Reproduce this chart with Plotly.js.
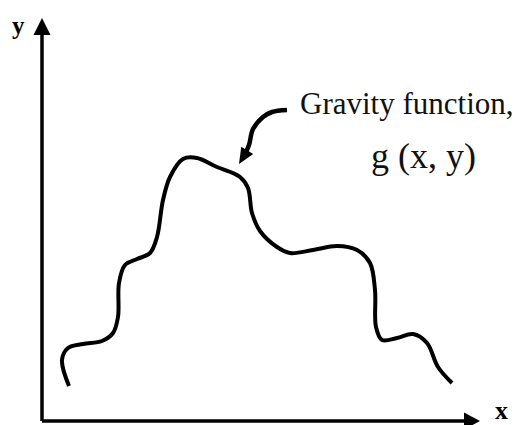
<!DOCTYPE html>
<html>
<head>
<meta charset="utf-8">
<script src="https://cdn.plot.ly/plotly-3.0.1.min.js"></script>
<style>html,body{margin:0;padding:0;background:#fff;}#chart{width:516px;height:425px;}</style>
</head>
<body>
<div id="chart"></div>
<script>
// Gravity function curve g(x, y) (schematic units)
const curveX = [27,20,26,41,60,71,76,77,83,95,108,115,121,128,141,155,175,198,206,210,218,235,248,271,295,315,328,333,334,340,355,371,385,396,410];
const curveY = [35,61,73,77,80,88,104,138,156,162,168,184,221,244,262,263,254,244,233,208,190,174,168,171,175,171,158,131,94,81,83,87,78,54,38];

// Pointer arrow from label to curve
const pointerX = [245,230,221,211,207,203,197];
const pointerY = [311,309,304,292,276,267,257];

// Axes (origin to arrow tip)
const xAxisX = [0,438];
const xAxisY = [0,0];
const yAxisX = [0,0];
const yAxisY = [0,403];

const labels = {title1: "Gravity function,", title2: "g (x, y)", xLabel: "x", yLabel: "y"};

// Build a filled triangular arrowhead (data units are 1:1 with pixels here)
function headPath(xs, ys, len, wid){
  const n = xs.length;
  const tx = xs[n-1], ty = ys[n-1];
  let dx = tx - xs[n-2], dy = ty - ys[n-2];
  const d = Math.hypot(dx, dy); dx /= d; dy /= d;
  const bx = tx - dx*len, by = ty - dy*len;
  const px = -dy, py = dx;
  const h = wid/2;
  return 'M' + tx + ',' + ty + ' L' + (bx + px*h) + ',' + (by + py*h) + ' L' + (bx - px*h) + ',' + (by - py*h) + ' Z';
}
function trimmed(xs, ys, cut){
  const n = xs.length;
  const X = xs.slice(), Y = ys.slice();
  let dx = xs[n-1] - xs[n-2], dy = ys[n-1] - ys[n-2];
  const d = Math.hypot(dx, dy);
  X[n-1] = xs[n-1] - dx/d*cut; Y[n-1] = ys[n-1] - dy/d*cut;
  return [X, Y];
}

const [pX, pY] = trimmed(pointerX, pointerY, 8);
const [axX, axY] = trimmed(xAxisX, xAxisY, 8);
const [ayX, ayY] = trimmed(yAxisX, yAxisY, 8);

const traces = [
  {x: curveX, y: curveY, mode: 'lines', line: {color: '#000', width: 4, shape: 'spline', smoothing: 1}, hoverinfo: 'skip'},
  {x: pX, y: pY, mode: 'lines', line: {color: '#000', width: 4.5, shape: 'spline', smoothing: 1}, hoverinfo: 'skip'},
  {x: axX, y: axY, mode: 'lines', line: {color: '#000', width: 3.5}, hoverinfo: 'skip'},
  {x: ayX, y: ayY, mode: 'lines', line: {color: '#000', width: 3.5}, hoverinfo: 'skip'}
];

const headStyle = {type: 'path', xref: 'x', yref: 'y', fillcolor: '#000', line: {width: 0}, layer: 'above'};

const serif = 'Liberation Serif, Times New Roman, serif';
const layout = {
  width: 516, height: 425,
  margin: {l: 0, r: 0, t: 0, b: 0},
  paper_bgcolor: '#fff', plot_bgcolor: '#fff',
  showlegend: false,
  xaxis: {range: [-42, 474], visible: false, fixedrange: true},
  yaxis: {range: [-4, 421], visible: false, fixedrange: true},
  shapes: [
    Object.assign({path: headPath(pointerX, pointerY, 16, 14)}, headStyle),
    Object.assign({path: headPath(xAxisX, xAxisY, 16, 17)}, headStyle),
    Object.assign({path: headPath(yAxisX, yAxisY, 17, 17)}, headStyle)
  ],
  annotations: [
    {x: 365, y: 318, xref: 'x', yref: 'y', text: labels.title1, showarrow: false, font: {family: serif, size: 31, color: '#111'}},
    {x: 381, y: 265, xref: 'x', yref: 'y', text: labels.title2, showarrow: false, font: {family: serif, size: 36, color: '#111'}},
    {x: 459, y: 11, xref: 'x', yref: 'y', text: '<b>' + labels.xLabel + '</b>', showarrow: false, font: {family: serif, size: 26, color: '#000'}},
    {x: -24, y: 396, xref: 'x', yref: 'y', text: '<b>' + labels.yLabel + '</b>', showarrow: false, font: {family: serif, size: 25, color: '#000'}}
  ]
};

Plotly.newPlot('chart', traces, layout, {displayModeBar: false, staticPlot: true});
</script>
</body>
</html>
